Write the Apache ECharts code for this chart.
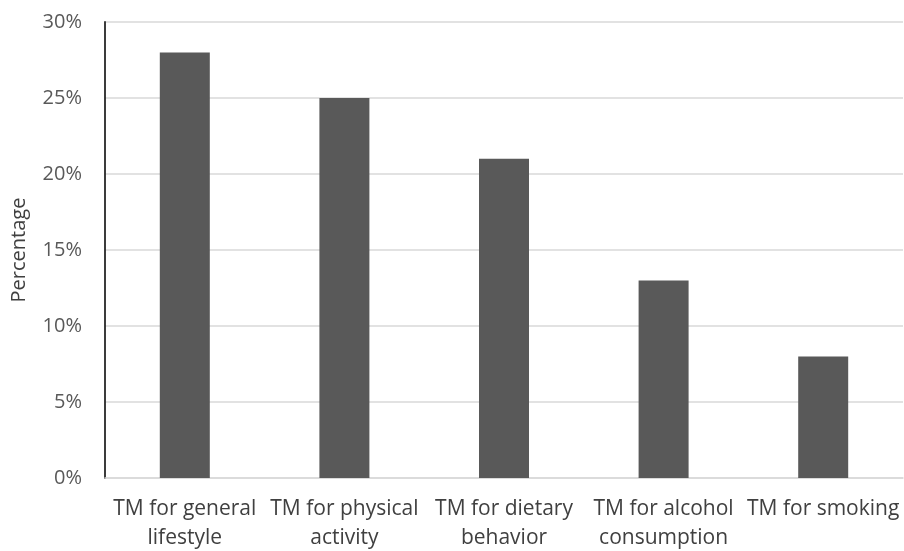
<!DOCTYPE html>
<html>
<head>
<meta charset="utf-8">
<script src="https://cdn.jsdelivr.net/npm/echarts@6/dist/echarts.min.js"></script>
<style>html,body{margin:0;padding:0;background:#fff;}#c{width:904px;height:551px;}</style>
</head>
<body>
<div id="c"></div>
<script>
var categories = ["TM for general\nlifestyle", "TM for physical\nactivity", "TM for dietary\nbehavior", "TM for alcohol\nconsumption", "TM for smoking"];
var values = [28, 25, 21, 13, 8];
var yTicks = [0, 5, 10, 15, 20, 25, 30];

var chart = echarts.init(document.getElementById('c'), null, {renderer: 'canvas'});
chart.setOption({
  animation: false,
  backgroundColor: '#ffffff',
  textStyle: {fontFamily: 'Open Sans'},
  grid: {left: 105, right: 1, top: 22, bottom: 73, containLabel: false, outerBoundsMode: 'none'},
  xAxis: {
    type: 'category',
    data: categories,
    axisLine: {show: true, lineStyle: {color: '#d9d9d9', width: 1.5}},
    axisTick: {show: false},
    axisLabel: {color: '#404040', fontSize: 21, lineHeight: 29, margin: 17, interval: 0, fontFamily: 'Open Sans'}
  },
  yAxis: {
    type: 'value',
    min: yTicks[0],
    max: yTicks[yTicks.length - 1],
    interval: yTicks[1] - yTicks[0],
    name: 'Percentage',
    nameLocation: 'middle',
    nameGap: 76,
    nameTextStyle: {color: '#404040', fontSize: 20, fontFamily: 'Open Sans'},
    axisLine: {show: true, lineStyle: {color: '#262626', width: 1.8}},
    axisTick: {show: false},
    splitLine: {show: true, lineStyle: {color: '#d9d9d9', width: 1.5}},
    axisLabel: {color: '#595959', fontSize: 20, margin: 23, formatter: '{value}%', fontFamily: 'Open Sans'}
  },
  series: [{
    type: 'bar',
    data: values,
    barWidth: 50,
    itemStyle: {color: '#595959'}
  }]
});
</script>
</body>
</html>
